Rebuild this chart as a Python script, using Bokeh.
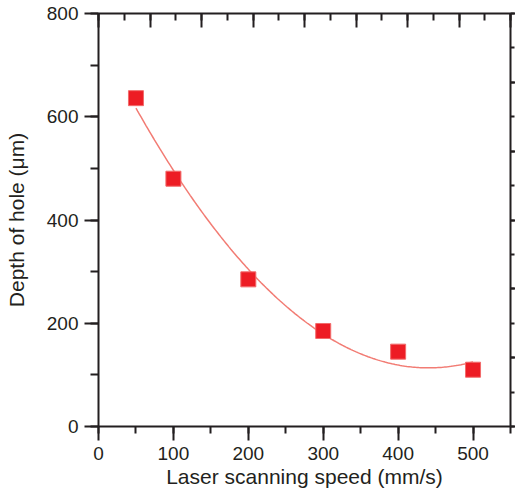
import numpy as np
from bokeh.plotting import figure
from bokeh.models import (Range1d, LinearAxis, SingleIntervalTicker,
                          CustomJSTickFormatter, ColumnDataSource)
from bokeh.embed import file_html
from bokeh.resources import INLINE

# ---- data ----
speed = [50, 100, 200, 300, 400, 500]          # mm/s
depth = [636, 480, 285, 185, 145, 110]         # micrometres
x_limits = [0, 550]
y_limits = [0, 800]
x_tick_step = 100
y_tick_step = 200
top_limits = [0, 8]      # unlabeled mirror scale on the top axis
right_limits = [0, 6]    # unlabeled mirror scale on the right axis
x_label = "Laser scanning speed (mm/s)"
y_label = "Depth of hole (μm)"

# quadratic fit through the measured points (as drawn in the reference)
coef = np.polyfit(speed, depth, 2)
fit_x = np.linspace(min(speed), max(speed), 200)
fit_y = np.polyval(coef, fit_x)

INK = "#231f20"
FONT = "Liberation Sans"

p = figure(width=515, height=494, output_backend="svg", toolbar_location=None,
           x_range=Range1d(*x_limits), y_range=Range1d(*y_limits),
           x_axis_type=None, y_axis_type=None,
           min_border_left=98, min_border_right=5, min_border_top=13,
           min_border_bottom=68)
p.outline_line_color = None
p.xgrid.visible = False
p.ygrid.visible = False
p.background_fill_color = "white"
p.border_fill_color = "white"

p.extra_x_ranges = {"top": Range1d(*top_limits)}
p.extra_y_ranges = {"right": Range1d(*right_limits)}

blank = CustomJSTickFormatter(code="return ''")


def style(ax):
    ax.axis_line_color = INK
    ax.axis_line_width = 2
    ax.major_tick_line_color = INK
    ax.major_tick_line_width = 2
    ax.minor_tick_line_color = INK
    ax.minor_tick_line_width = 2
    ax.major_label_text_color = INK
    ax.major_label_text_font = FONT
    ax.major_label_text_font_size = "19px"
    ax.axis_label_text_color = INK
    ax.axis_label_text_font = FONT
    ax.axis_label_text_font_size = "21px"
    ax.axis_label_text_font_style = "normal"


bottom = LinearAxis(ticker=SingleIntervalTicker(interval=x_tick_step, num_minor_ticks=2),
                    axis_label=x_label)
style(bottom)
bottom.major_tick_in = 0
bottom.major_tick_out = 14
bottom.minor_tick_in = 0
bottom.minor_tick_out = 7
bottom.major_label_standoff = 6
bottom.axis_label_standoff = 2
p.add_layout(bottom, "below")

left = LinearAxis(ticker=SingleIntervalTicker(interval=y_tick_step, num_minor_ticks=2),
                  axis_label=y_label)
style(left)
left.major_tick_in = 0
left.major_tick_out = 14
left.minor_tick_in = 0
left.minor_tick_out = 8
left.major_label_standoff = 6
left.axis_label_standoff = 16
p.add_layout(left, "left")

top = LinearAxis(x_range_name="top",
                 ticker=SingleIntervalTicker(interval=1, num_minor_ticks=2),
                 formatter=blank)
style(top)
top.major_tick_in = 14
top.major_tick_out = 0
top.minor_tick_in = 7
top.minor_tick_out = 0
top.major_label_standoff = 0
p.add_layout(top, "above")

right = LinearAxis(y_range_name="right",
                   ticker=SingleIntervalTicker(interval=1, num_minor_ticks=2),
                   formatter=blank)
style(right)
right.major_tick_in = 0
right.major_tick_out = 5
right.minor_tick_in = 0
right.minor_tick_out = 4
right.major_label_standoff = 0
p.add_layout(right, "right")

fit_src = ColumnDataSource(dict(x=fit_x, y=fit_y))
p.line("x", "y", source=fit_src, line_color="#f27c74", line_width=1.5)

pts = ColumnDataSource(dict(x=speed, y=depth))
p.scatter("x", "y", source=pts, marker="square", size=15,
          fill_color="#ed1c24", line_color="#f26b6b", line_width=1)

open("out.html", "w").write(file_html(p, INLINE))
